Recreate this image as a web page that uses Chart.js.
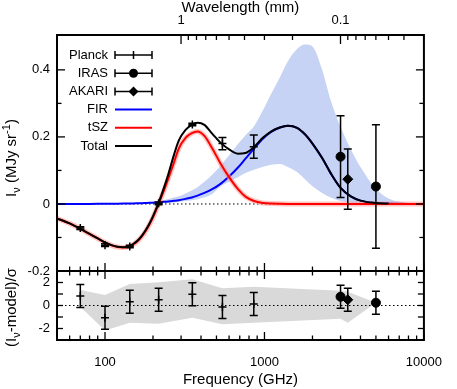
<!DOCTYPE html>
<html><head><meta charset="utf-8">
<script src="https://cdn.jsdelivr.net/npm/chart.js@4.4.0/dist/chart.umd.min.js"></script>
<style>html,body{margin:0;padding:0;background:#fff}#c{display:block}</style>
</head><body>
<canvas id="c" width="457" height="389"></canvas>
<script>
// ---- model curves ----
const freqGrid   = [50,60,70,80,90,100,110,120,130,140,150,160,170,180,190,200,217,235,250,270,290,320,350,380,420,470,530,600,680,760,860,980,1100,1250,1400,1600,1800,2000,2300,2600,3000,3500,4000,5000,6000,8000,10000];
const tszCurve   = [-0.043,-0.058,-0.074,-0.0895,-0.103,-0.1148,-0.1234,-0.1286,-0.130,-0.1275,-0.121,-0.111,-0.0972,-0.0806,-0.0614,-0.040,0.000,0.0417,0.077,0.122,0.165,0.197,0.211,0.216,0.203,0.166,0.121,0.080,0.045,0.022,0.009,0.003,0.001,0.0003,0,0,0,0,0,0,0,0,0,0,0,0,0];
const firCurve   = [0,0.0001,0.0001,0.0002,0.0003,0.0004,0.0006,0.0008,0.001,0.0012,0.0015,0.0019,0.0023,0.0028,0.0033,0.0039,0.005,0.0063,0.0075,0.0094,0.0113,0.0152,0.0195,0.025,0.033,0.044,0.060,0.082,0.108,0.135,0.165,0.195,0.215,0.228,0.233,0.227,0.207,0.180,0.137,0.092,0.048,0.022,0.010,0.003,0.001,0,0];
const totalCurve = [-0.043,-0.058,-0.074,-0.0893,-0.1027,-0.1144,-0.1228,-0.1278,-0.129,-0.1263,-0.1195,-0.1091,-0.0949,-0.0778,-0.0581,-0.0361,0.004,0.050,0.090,0.145,0.189,0.221,0.236,0.242,0.236,0.210,0.183,0.163,0.150,0.152,0.170,0.198,0.216,0.228,0.233,0.227,0.207,0.180,0.137,0.092,0.048,0.022,0.010,0.003,0.001,null,null];
const firBandHigh= [0,0,0,0.0003,0.0005,0.0007,0.001,0.0014,0.0018,0.0022,0.0028,0.0035,0.0043,0.0052,0.0062,0.0073,0.0093,0.012,0.0145,0.019,0.023,0.031,0.040,0.050,0.066,0.087,0.114,0.145,0.178,0.205,0.232,0.280,0.328,0.378,0.425,0.462,0.476,0.470,0.400,0.310,0.230,0.160,0.110,0.045,0.016,0.003,0];
const firBandLow = [0,0,0,0.0001,0.0001,0.0002,0.0003,0.0004,0.0005,0.0006,0.0008,0.001,0.0012,0.0014,0.0017,0.002,0.0026,0.0033,0.004,0.005,0.006,0.0085,0.011,0.014,0.020,0.030,0.052,0.066,0.080,0.092,0.102,0.111,0.117,0.119,0.110,0.095,0.073,0.053,0.033,0.019,0.009,0.004,0.002,0.0005,0.0001,0,0];

// ---- measurements ----
const planckFreq = [70,100,143,217,353,545,857];
const planckVal  = [-0.072,-0.123,-0.127,0.002,0.237,0.180,0.171];
const planckErr  = [0.004,0.004,0.004,0.004,0.004,0.018,0.035];
const irasFreq   = [3000,5000];
const irasVal    = [0.141,0.052];
const irasErr    = [0.122,0.184];
const akariFreq  = [3330];
const akariVal   = [0.074];
const akariErr   = [0.090];

// ---- residuals ----
const planckRes  = [0.82,-1.06,0.32,0.50,0.97,-0.12,0.12];
const irasRes    = [0.76,0.24];
const akariRes   = [0.50];
const planckResErr = [1,1,1,1,1,1,1];
const irasResErr = [1,1];
const akariResErr = [1];
const resBandFreq = [70,100,143,217,353,545,857,3000,3330,5000];
const resBandHigh = [1.35,0.91,1.88,2.03,2.29,1.50,1.62,1.29,1.20,0.24];
const resBandLow  = [-0.10,-2.18,-1.50,-1.59,-1.06,-1.62,-1.50,-1.15,-1.50,0.24];

// ---- axes ----
const xTickLabels = [100,1000,10000];
const xMinor = [60,70,80,90,200,300,400,500,600,700,800,900,2000,3000,4000,5000,6000,7000,8000,9000];
const yMainLabels = [-0.2,0,0.2,0.4];
const yMainMinor = [-0.1,0.1,0.3];
const yResLabels = [-2,0,2];
const yResMinor = [-1,1];
const wlLabels = [1,0.1];
const wlMinor = [0.9,0.8,0.7,0.6,0.5,0.4,0.3,0.2,0.09,0.08,0.07,0.06,0.05,0.04];
const C_GHZ_MM = 299.792458;

const FONT = "'Liberation Sans', Arial, Helvetica, sans-serif";
const pts = (xs, ys) => xs.map((x,i)=>({x, y: ys[i]})).filter(p => p.y !== null);

const lineDs = (data, color, width, order, axis, extra) => Object.assign({
  data, borderColor: color, borderWidth: width, pointRadius: 0, fill: false,
  cubicInterpolationMode: 'monotone', order, yAxisID: axis, xAxisID: 'x'
}, extra || {});

const ptDs = (data, errors, style, radius, order, axis) => ({
  type: 'scatter', data, errors, pointStyle: style, pointRadius: radius,
  borderColor: '#000', backgroundColor: '#000', borderWidth: style === 'cross' ? 1.5 : 1,
  showLine: false, order, yAxisID: axis, xAxisID: 'x'
});

const datasets = [
  lineDs(pts(freqGrid, firBandHigh), 'rgba(0,0,0,0)', 0, 20, 'y', {fill: '+1', backgroundColor: '#c6d3f4'}),
  lineDs(pts(freqGrid, firBandLow), 'rgba(0,0,0,0)', 0, 19, 'y'),
  lineDs(pts(resBandFreq, resBandHigh), 'rgba(0,0,0,0)', 0, 20, 'yr', {fill: '+1', backgroundColor: '#d9d9d9', cubicInterpolationMode: 'default', tension: 0}),
  lineDs(pts(resBandFreq, resBandLow), 'rgba(0,0,0,0)', 0, 19, 'yr', {cubicInterpolationMode: 'default', tension: 0}),
  lineDs([{x:50,y:0},{x:10000,y:0}], '#000', 1, 15, 'y', {borderDash: [1.5, 2.5], cubicInterpolationMode: 'default'}),
  lineDs([{x:50,y:0},{x:10000,y:0}], '#000', 1, 15, 'yr', {borderDash: [1.5, 2.5], cubicInterpolationMode: 'default'}),
  lineDs(pts(freqGrid, firCurve), '#0000ff', 2, 10, 'y'),
  lineDs(pts(freqGrid, tszCurve), 'rgba(255,150,140,0.55)', 5, 9, 'y'),
  lineDs(pts(freqGrid, tszCurve), '#ff0000', 2, 8, 'y'),
  lineDs(pts(freqGrid, totalCurve), '#000', 2, 7, 'y'),
  ptDs(pts(planckFreq, planckVal), planckErr, 'cross', 4, 1, 'y'),
  ptDs(pts(irasFreq, irasVal), irasErr, 'circle', 4.5, 1, 'y'),
  ptDs(pts(akariFreq, akariVal), akariErr, 'rectRot', 5, 1, 'y'),
  ptDs(pts(planckFreq, planckRes), planckResErr, 'cross', 4, 1, 'yr'),
  ptDs(pts(irasFreq, irasRes), irasResErr, 'circle', 4.5, 1, 'yr'),
  ptDs(pts(akariFreq, akariRes), akariResErr, 'rectRot', 5, 1, 'yr')
];

const errPlugin = {
  id: 'errbars',
  afterDatasetsDraw(chart) {
    const ctx = chart.ctx;
    ctx.save();
    ctx.strokeStyle = '#000';
    ctx.lineWidth = 1.5;
    chart.data.datasets.forEach((ds, i) => {
      if (!ds.errors) return;
      const meta = chart.getDatasetMeta(i);
      const ys = chart.scales[meta.yAxisID];
      meta.data.forEach((el, j) => {
        const v = ds.data[j].y, e = ds.errors[j];
        const px = el.x;
        const y1 = ys.getPixelForValue(v - e), y2 = ys.getPixelForValue(v + e);
        ctx.beginPath();
        ctx.moveTo(px, y1); ctx.lineTo(px, y2);
        ctx.moveTo(px - 4, y1); ctx.lineTo(px + 4, y1);
        ctx.moveTo(px - 4, y2); ctx.lineTo(px + 4, y2);
        ctx.stroke();
      });
    });
    ctx.restore();
  }
};

function richText(ctx, parts, cx, cy, rot) {
  ctx.save();
  ctx.translate(cx, cy);
  if (rot) ctx.rotate(-Math.PI / 2);
  ctx.textBaseline = 'alphabetic';
  ctx.textAlign = 'left';
  let w = 0;
  parts.forEach(p => { ctx.font = p.size + 'px ' + FONT; p.w = ctx.measureText(p.t).width; w += p.w; });
  let x = -w / 2;
  parts.forEach(p => { ctx.font = p.size + 'px ' + FONT; ctx.fillText(p.t, x, p.dy || 0); x += p.w; });
  ctx.restore();
}

const framePlugin = {
  id: 'frame',
  afterDraw(chart) {
    const {ctx, chartArea: a} = chart;
    const {x, y, yr} = chart.scales;
    const mid = yr.top;
    ctx.save();
    ctx.strokeStyle = '#000';
    ctx.fillStyle = '#000';
    const seg = (x1, y1, x2, y2) => { ctx.beginPath(); ctx.moveTo(x1, y1); ctx.lineTo(x2, y2); ctx.stroke(); };
    ctx.lineWidth = 1.3;
    const xt = (v, len) => {
      const px = x.getPixelForValue(v);
      seg(px, mid - len, px, mid + len);
      seg(px, a.bottom, px, a.bottom - len);
    };
    xTickLabels.forEach(v => xt(v, 8));
    xMinor.forEach(v => xt(v, 4.5));
    wlLabels.forEach(l => { const px = x.getPixelForValue(C_GHZ_MM / l); seg(px, a.top, px, a.top + 9); });
    wlMinor.forEach(l => { const px = x.getPixelForValue(C_GHZ_MM / l); seg(px, a.top, px, a.top + 5); });
    const yt = (s, v, len) => {
      const py = s.getPixelForValue(v);
      seg(a.left, py, a.left + len, py);
      seg(a.right, py, a.right - len, py);
    };
    yMainLabels.forEach(v => yt(y, v, 8));
    yMainMinor.forEach(v => yt(y, v, 4.5));
    yResLabels.forEach(v => yt(yr, v, 6));
    yResMinor.forEach(v => yt(yr, v, 6));
    ctx.lineWidth = 2;
    ctx.strokeRect(a.left, a.top, a.right - a.left, a.bottom - a.top);
    seg(a.left, mid, a.right, mid);

    richText(ctx, [{t:'I', size:15}, {t:'ν', size:11, dy:4}, {t:' (MJy sr', size:15}, {t:'-1', size:11, dy:-6}, {t:')', size:15}], 16, (a.top + mid) / 2 + 5, true);
    richText(ctx, [{t:'(I', size:15}, {t:'ν', size:11, dy:4}, {t:'-model)/σ', size:15}], 16, (mid + a.bottom) / 2 + 2, true);

    const items = [
      {label: 'Planck', kind: 'planck'}, {label: 'IRAS', kind: 'iras'}, {label: 'AKARI', kind: 'akari'},
      {label: 'FIR', kind: 'line', color: '#0000ff'}, {label: 'tSZ', kind: 'line', color: '#ff0000'}, {label: 'Total', kind: 'line', color: '#000'}
    ];
    const lx0 = 115, lx1 = 152, lxc = (lx0 + lx1) / 2;
    items.forEach((it, i) => {
      const ly = 55 + i * 18.2;
      ctx.font = '13px ' + FONT;
      ctx.textAlign = 'right';
      ctx.textBaseline = 'middle';
      ctx.fillStyle = '#000';
      ctx.fillText(it.label, 108, ly);
      if (it.kind === 'line') {
        ctx.strokeStyle = it.color; ctx.lineWidth = 2;
        seg(lx0, ly, lx1, ly);
      } else {
        ctx.strokeStyle = '#000'; ctx.lineWidth = 1.5;
        seg(lx0, ly, lx1, ly);
        seg(lx0, ly - 4, lx0, ly + 4);
        seg(lx1, ly - 4, lx1, ly + 4);
        if (it.kind === 'planck') seg(lxc, ly - 4, lxc, ly + 4);
        if (it.kind === 'iras') { ctx.beginPath(); ctx.arc(lxc, ly, 4.5, 0, Math.PI * 2); ctx.fill(); }
        if (it.kind === 'akari') { ctx.beginPath(); ctx.moveTo(lxc, ly - 5); ctx.lineTo(lxc + 5, ly); ctx.lineTo(lxc, ly + 5); ctx.lineTo(lxc - 5, ly); ctx.closePath(); ctx.fill(); }
      }
    });
    ctx.restore();
  }
};

const tickFont = {family: FONT, size: 13};
const noGrid = {display: false, drawTicks: false};

new Chart(document.getElementById('c'), {
  type: 'line',
  data: {datasets},
  plugins: [errPlugin, framePlugin],
  options: {
    responsive: false, animation: false, devicePixelRatio: 1,
    layout: {padding: {left: 0, right: 19, top: 0, bottom: 0}},
    plugins: {legend: {display: false}, tooltip: {enabled: false}},
    scales: {
      x: {
        type: 'logarithmic', position: 'bottom', min: 50, max: 10000,
        grid: noGrid, border: {display: false},
        afterBuildTicks: s => { s.ticks = xTickLabels.map(v => ({value: v})); },
        ticks: {font: tickFont, color: '#000', padding: 15, maxRotation: 0, autoSkip: false, callback: v => String(v)},
        title: {display: true, text: 'Frequency (GHz)', color: '#000', font: {family: FONT, size: 15, lineHeight: 1.2}, padding: 0},
        afterFit: s => { s.height = 49; }
      },
      xTop: {
        type: 'logarithmic', position: 'top', min: 50, max: 10000,
        grid: noGrid, border: {display: false},
        afterBuildTicks: s => { s.ticks = wlLabels.map(l => ({value: C_GHZ_MM / l})); },
        ticks: {font: tickFont, color: '#000', padding: 7, maxRotation: 0, autoSkip: false, callback: (v, i) => String(wlLabels[i])},
        title: {display: true, text: 'Wavelength (mm)', color: '#000', font: {family: FONT, size: 15, lineHeight: 1.0}, padding: 0},
        afterFit: s => { s.height = 35; }
      },
      y: {
        type: 'linear', position: 'left', stack: 'panels', stackWeight: 236, weight: 1,
        min: -0.2, max: 0.504,
        grid: noGrid, border: {display: false},
        afterBuildTicks: s => { s.ticks = yMainLabels.map(v => ({value: v})); },
        ticks: {font: tickFont, color: '#000', padding: 7, callback: v => v === 0 ? '0' : v.toFixed(1)},
        afterFit: s => { s.width = 57; }
      },
      yr: {
        type: 'linear', position: 'left', stack: 'panels', stackWeight: 69, weight: 0,
        min: -3, max: 3,
        grid: noGrid, border: {display: false},
        afterBuildTicks: s => { s.ticks = yResLabels.map(v => ({value: v})); },
        ticks: {font: tickFont, color: '#000', padding: 7, callback: v => String(v)},
        afterFit: s => { s.width = 57; }
      }
    }
  }
});
</script>
</body></html>
